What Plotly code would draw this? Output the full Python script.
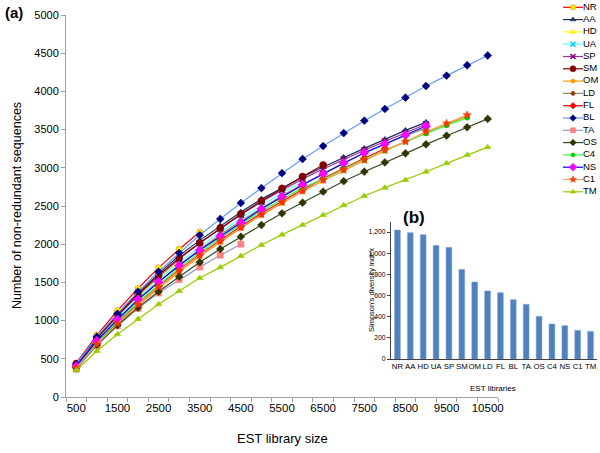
import plotly.graph_objects as go

# ---------------- data ----------------
est_sizes = [500, 1000, 1500, 2000, 2500, 3000, 3500, 4000, 4500, 5000, 5500,
             6000, 6500, 7000, 7500, 8000, 8500, 9000, 9500, 10000, 10500]
x_tick_labels = ["500", "1500", "2500", "3500", "4500", "5500", "6500",
                 "7500", "8500", "9500", "10500"]
x_tick_values = [500, 1500, 2500, 3500, 4500, 5500, 6500, 7500, 8500, 9500, 10500]

NR = [445, 810, 1130, 1420, 1690, 1935, 2160]
AA = [430, 775, 1085, 1360, 1615, 1850, 2050, 2240, 2420, 2590, 2740, 2880, 3010,
      3137, 3254, 3372, 3490, 3595]
HD = [410, 755, 1050, 1315, 1555, 1780]
UA = [405, 745, 1035, 1295, 1535, 1760, 1965, 2160, 2340, 2510, 2670, 2820]
SP = [420, 760, 1060, 1330, 1575, 1805, 2015, 2205, 2385, 2555, 2710, 2855, 2985,
      3110, 3230, 3345, 3460, 3570]
SM = [435, 770, 1070, 1345, 1595, 1820, 2015, 2210, 2395, 2565, 2730, 2885, 3037]
OM = [385, 690, 955, 1195, 1420, 1640, 1840, 2030, 2210, 2380, 2540, 2690, 2830,
      2965, 3095, 3220, 3340, 3455, 3565, 3680]
LD = [400, 725, 1010, 1270, 1505, 1725, 1930, 2125, 2305, 2475, 2635, 2785, 2930,
      3065, 3190, 3310, 3420, 3520]
FL = [395, 705, 975, 1220, 1450, 1665, 1865, 2055, 2235, 2405, 2565, 2715, 2860,
      2995, 3125, 3250]
BL = [430, 790, 1090, 1380, 1640, 1885, 2120, 2330, 2540, 2735, 2930, 3115, 3285,
      3455, 3617, 3770, 3918, 4071, 4206, 4342, 4470]
TA = [365, 675, 930, 1160, 1360, 1535, 1700, 1855, 2000]
OS = [380, 680, 940, 1170, 1380, 1575, 1763, 1937, 2098, 2251, 2404, 2543, 2688,
      2825, 2949, 3071, 3189, 3307, 3420, 3530, 3640]
C4 = [390, 710, 990, 1240, 1470, 1690, 1890, 2080, 2260, 2430, 2590, 2740, 2850,
      2985, 3110, 3230, 3345, 3450, 3555, 3656]
NS = [405, 735, 1015, 1275, 1505, 1720, 1920, 2105, 2280, 2460, 2620, 2775, 2920,
      3062, 3198, 3312, 3430, 3547]
C1 = [380, 690, 960, 1210, 1440, 1655, 1855, 2040, 2220, 2390, 2550, 2700, 2840,
      2971, 3102, 3233, 3342, 3470, 3582, 3690]
TM = [350, 602, 820, 1021, 1213, 1387, 1557, 1697, 1845, 1990, 2125, 2251, 2382,
      2510, 2631, 2740, 2840, 2949, 3058, 3167, 3270]

series_names = ["NR", "AA", "HD", "UA", "SP", "SM", "OM", "LD", "FL", "BL", "TA",
                "OS", "C4", "NS", "C1", "TM"]
series_values = [NR, AA, HD, UA, SP, SM, OM, LD, FL, BL, TA, OS, C4, NS, C1, TM]

# inset (b)
libraries = ["NR", "AA", "HD", "UA", "SP", "SM", "OM", "LD", "FL", "BL", "TA",
             "OS", "C4", "NS", "C1", "TM"]
simpson_index = [1219, 1194, 1175, 1074, 1055, 847, 728, 643, 627, 561, 517, 403,
                 331, 315, 271, 261]

# ---------------- styles ----------------
# (line color, marker symbol, marker fill, marker edge, marker size)
styles = {
    "NR": ("#FF0000", "circle", "#FFFF00", "#FF6600", 6),
    "AA": ("#1F2F5A", "triangle-up", "#1F2F5A", "#1F2F5A", 6),
    "HD": ("#FFFF00", "triangle-up", "#FFFF00", "#E6E600", 6),
    "UA": ("#66FFFF", "x-thin", "#00CCFF", "#00CCFF", 6),
    "SP": ("#993399", "x-thin", "#800080", "#800080", 6),
    "SM": ("#800000", "circle", "#800000", "#800000", 7),
    "OM": ("#FF9900", "circle", "#FF9900", "#FF9900", 5),
    "LD": ("#8C8C6E", "circle", "#993300", "#993300", 5),
    "FL": ("#FF0000", "diamond", "#FF0000", "#FF0000", 6),
    "BL": ("#6699FF", "diamond", "#000080", "#000080", 6),
    "TA": ("#9999CC", "square", "#FF8080", "#FF8080", 6),
    "OS": ("#2F4F1F", "diamond", "#333300", "#333300", 6),
    "C4": ("#33FF33", "circle", "#00CC00", "#00CC00", 5),
    "NS": ("#0000FF", "diamond", "#FF00FF", "#FF00FF", 7),
    "C1": ("#FF9966", "star", "#FF3300", "#FF3300", 6),
    "TM": ("#99CC00", "triangle-up", "#99CC00", "#99CC00", 6),
}

W, H = 600, 453
FONT = "Liberation Sans, Arial, Helvetica, sans-serif"


def fx(p):
    return p / W


def fy(p):
    return 1 - p / H


fig = go.Figure()

for name, vals in zip(series_names, series_values):
    lc, sym, mfill, medge, msz = styles[name]
    thin = sym.endswith("-thin")
    fig.add_trace(go.Scatter(
        x=est_sizes[:len(vals)], y=vals, name=name, mode="lines+markers",
        line=dict(color=lc, width=1.2),
        marker=dict(symbol=sym, size=msz, color=mfill,
                    line=dict(color=medge, width=1.5 if thin else 0.6)),
        xaxis="x", yaxis="y", showlegend=False,
    ))

# inset bar chart
fig.add_trace(go.Bar(
    x=libraries, y=simpson_index, marker=dict(color="#4F81BD",
                                              line=dict(color="#7EA3D3", width=0.5)),
    xaxis="x2", yaxis="y2", showlegend=False,
))

# compact legend drawn on a helper axis (one row per series)
row0, row_step = 7.3, 12.3
for i, name in enumerate(series_names):
    lc, sym, mfill, medge, msz = styles[name]
    thin = sym.endswith("-thin")
    yrow = row0 + row_step * i
    fig.add_trace(go.Scatter(
        x=[0, 1], y=[yrow, yrow], mode="lines", line=dict(color=lc, width=1.2),
        xaxis="x3", yaxis="y3", showlegend=False, hoverinfo="skip",
    ))
    fig.add_trace(go.Scatter(
        x=[0.5], y=[yrow], mode="markers",
        marker=dict(symbol=sym, size=msz - 1, color=mfill,
                    line=dict(color=medge, width=1.5 if thin else 0.6)),
        xaxis="x3", yaxis="y3", showlegend=False, hoverinfo="skip",
    ))
fig.add_trace(go.Scatter(
    x=[1.0] * len(series_names), y=[row0 + row_step * i for i in range(len(series_names))],
    mode="text", text=series_names, textposition="middle right",
    textfont=dict(family=FONT, size=9.5, color="#000000"),
    xaxis="x3", yaxis="y3", showlegend=False, hoverinfo="skip", cliponaxis=False,
))

axis_grey = "#A0A0A0"
fig.update_layout(
    width=W, height=H,
    margin=dict(l=0, r=0, t=0, b=0),
    paper_bgcolor="white", plot_bgcolor="rgba(0,0,0,0)",
    font=dict(family=FONT, color="#000000"),
    showlegend=False,
    xaxis=dict(
        domain=[fx(66), fx(498)], range=[250, 10750], anchor="y",
        showline=True, linecolor=axis_grey, linewidth=1,
        showgrid=False, zeroline=False,
        tickmode="array", tickvals=x_tick_values, ticktext=x_tick_labels,
        ticks="", tickfont=dict(size=11.5, color="#000000"),
        minor=dict(ticks="outside", tick0=250, dtick=500, ticklen=4,
                   tickcolor=axis_grey, tickwidth=1, showgrid=False),
        automargin=False, fixedrange=True,
    ),
    yaxis=dict(
        domain=[fy(397), fy(15)], range=[0, 5000], anchor="x",
        showline=True, linecolor=axis_grey, linewidth=1,
        showgrid=False, zeroline=False,
        tickmode="linear", tick0=0, dtick=500,
        ticks="outside", ticklen=4, tickcolor=axis_grey,
        tickfont=dict(size=11, color="#000000"),
        automargin=False,
    ),
    xaxis2=dict(
        domain=[fx(391), fx(597)], anchor="y2", type="category",
        showline=True, linecolor="#404040", linewidth=1,
        showgrid=False, zeroline=False, ticks="",
        tickfont=dict(size=7.8, color="#000000"), tickangle=0,
        automargin=False,
    ),
    yaxis2=dict(
        domain=[fy(359), fy(222)], range=[0, 1295], anchor="x2",
        showline=True, linecolor="#404040", linewidth=1,
        showgrid=False, zeroline=False,
        tickmode="array", tickvals=[0, 200, 400, 600, 800, 1000, 1200],
        tickformat=",", ticks="outside", ticklen=3, tickcolor="#404040",
        tickfont=dict(size=6.8, color="#000000"),
        automargin=False,
    ),
    xaxis3=dict(domain=[fx(563), 1.0], range=[0, 37 / 20], visible=False,
                anchor="y3"),
    yaxis3=dict(domain=[0, 1], range=[H, 0], visible=False, anchor="x3"),
    bargap=0.55,
    annotations=[
        dict(text="<b>(a)</b>", x=fx(3), y=fy(12), xref="paper", yref="paper",
             xanchor="left", yanchor="middle", showarrow=False,
             font=dict(size=15, family=FONT)),
        dict(text="<b>(b)</b>", x=fx(414), y=fy(217), xref="paper", yref="paper",
             xanchor="center", yanchor="middle", showarrow=False,
             font=dict(size=17, family=FONT)),
        dict(text="Number of non-redundant sequences", x=fx(17), y=fy(206),
             xref="paper", yref="paper", textangle=-90, showarrow=False,
             xanchor="center", yanchor="middle", font=dict(size=12.5, family=FONT)),
        dict(text="EST library size", x=fx(282), y=fy(438), xref="paper",
             yref="paper", showarrow=False, xanchor="center", yanchor="middle",
             font=dict(size=13, family=FONT)),
        dict(text="Simpson's diversity index", x=fx(371), y=fy(290),
             xref="paper", yref="paper", textangle=-90, showarrow=False,
             xanchor="center", yanchor="middle", font=dict(size=7.5, family=FONT)),
        dict(text="EST libraries", x=fx(493), y=fy(388), xref="paper",
             yref="paper", showarrow=False, xanchor="center", yanchor="middle",
             font=dict(size=8, family=FONT)),
    ],
)

fig.write_html(
    "out.html",
    config={"displayModeBar": False, "staticPlot": True},
    post_script="document.body.style.margin='0';document.body.style.overflow='hidden';",
)
